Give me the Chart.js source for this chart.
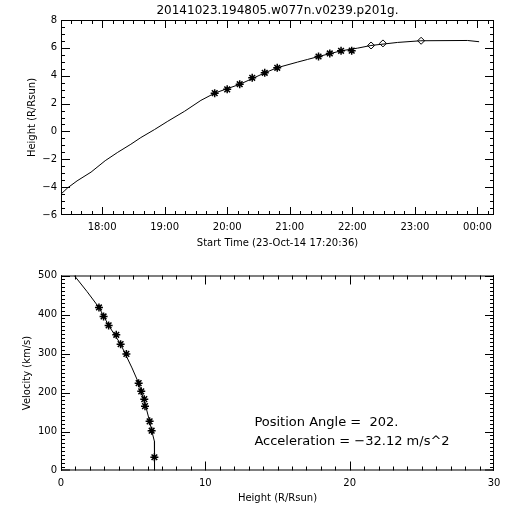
<!DOCTYPE html>
<html>
<head>
<meta charset="utf-8">
<script src="https://cdn.jsdelivr.net/npm/chart.js@4/dist/chart.umd.min.js"></script>
<style>
    body { margin: 0; background: #fff; }
    canvas { position: absolute; left: 0; }
    #heightChart, #heightFrame { top: 0; }
    #velChart, #velFrame { top: 250px; }
    #heightFrame, #velFrame { z-index: 2; pointer-events: none; }
</style>
</head>
<body>
<canvas id="heightChart" width="512" height="250"></canvas>
<canvas id="velChart" width="512" height="262"></canvas>
<canvas id="heightFrame" width="512" height="250"></canvas>
<canvas id="velFrame" width="512" height="262"></canvas>
<script>
// Height-time plot (hours of day, 24 = midnight)
const fitTimes = [17.343, 17.45, 17.60, 17.824, 18.05, 18.25, 18.46, 18.62, 18.84, 19.05, 19.32, 19.58, 19.805, 20.204, 20.604, 20.796, 21.126, 21.286, 21.462, 21.823, 22.085, 22.297, 22.724, 23.096, 23.842, 24.027];
const fitHeights = [-4.50, -4.05, -3.55, -2.92, -2.10, -1.50, -0.92, -0.44, 0.14, 0.73, 1.45, 2.23, 2.76, 3.39, 4.21, 4.57, 4.98, 5.17, 5.38, 5.79, 5.98, 6.17, 6.39, 6.51, 6.53, 6.44];
const obsTimes = [19.80, 20.00, 20.20, 20.40, 20.60, 20.80, 21.46, 21.64, 21.82, 21.99];
const obsHeights = [2.75, 3.02, 3.39, 3.85, 4.21, 4.57, 5.38, 5.60, 5.79, 5.80];
const extraTimes = [22.30, 22.49, 23.10];
const extraHeights = [6.17, 6.32, 6.51];
const timeRange = [17.3433, 24.265];
const heightRange = [-6, 8];
const hourTicks = [18, 19, 20, 21, 22, 23, 24];
const hourLabels = ['18:00', '19:00', '20:00', '21:00', '22:00', '23:00', '00:00'];

// Velocity-height plot
const velHeights = [2.63, 2.95, 3.30, 3.83, 4.13, 4.53, 5.38, 5.56, 5.77, 5.82, 6.14, 6.28, 6.47];
const velValues = [418, 395, 372, 348, 324, 299, 224, 203, 183, 165, 126, 102, 34];
const velFitHeights = [0.92, 1.8, 2.63, 3.3, 4.13, 4.92, 5.38, 5.8, 6.14, 6.3, 6.47, 6.48, 6.48];
const velFitValues = [500, 459, 418, 372, 324, 263, 224, 175, 126, 100, 75, 30, 0];
const distRange = [0, 30];
const velRange = [0, 500];

const titleText = '20141023.194805.w077n.v0239.p201g.';
const notes = ['Position Angle =  202.', 'Acceleration = \u221232.12 m/s^2'];
const noteX = 13.4;
const noteY = [122, 73];

const FONT = "'DejaVu Sans', sans-serif";
Chart.defaults.font.family = FONT;
Chart.defaults.font.size = 10;
Chart.defaults.color = '#000';

const toPoints = (xs, ys) => xs.map((x, i) => ({ x: x, y: ys[i] }));
const fmtNum = v => (v < 0 ? '\u2212' + Math.abs(v) : String(v));

// IDL style box with inward ticks on all four sides, drawn on a canvas laid over the chart
function drawFrame(canvasId, chart, cfg) {
    const ctx = document.getElementById(canvasId).getContext('2d');
    const a = chart.chartArea;
    const xs = chart.scales.x, ys = chart.scales.y;
    ctx.fillStyle = '#000';
    // box
    ctx.fillRect(a.left, a.top, a.right - a.left, 1);
    ctx.fillRect(a.left, a.bottom - 1, a.right - a.left, 1);
    ctx.fillRect(a.left, a.top, 1, a.bottom - a.top);
    ctx.fillRect(a.right - 1, a.top, 1, a.bottom - a.top);
    // x ticks, bottom and top
    const nx0 = Math.ceil(cfg.x[0] / cfg.xStep - 1e-6);
    const nx1 = Math.floor(cfg.x[1] / cfg.xStep + 1e-6);
    for (let k = nx0; k <= nx1; k++) {
        let px = Math.round(xs.getPixelForValue(k * cfg.xStep));
        px = Math.max(a.left, Math.min(px, a.right - 1));
        const len = (k % cfg.xEvery === 0) ? cfg.xMajor : cfg.xMinor;
        ctx.fillRect(px, a.bottom - len, 1, len);
        ctx.fillRect(px, a.top, 1, len);
    }
    // y ticks, left and right
    const ny0 = Math.ceil(cfg.y[0] / cfg.yStep - 1e-6);
    const ny1 = Math.floor(cfg.y[1] / cfg.yStep + 1e-6);
    for (let k = ny0; k <= ny1; k++) {
        let py = Math.round(ys.getPixelForValue(k * cfg.yStep));
        py = Math.max(a.top, Math.min(py, a.bottom - 1));
        const len = (k % cfg.yEvery === 0) ? cfg.yMajor : cfg.yMinor;
        ctx.fillRect(a.left, py, len, 1);
        ctx.fillRect(a.right - len, py, len, 1);
    }
}

// free text placed at data coordinates (or above the box for the title)
function makeText(lines, size, place) {
    return {
        id: 'freeText',
        afterDraw(chart) {
            const ctx = chart.ctx;
            ctx.save();
            ctx.font = size + 'px ' + FONT;
            ctx.fillStyle = '#000';
            ctx.textBaseline = 'middle';
            lines.forEach((t, i) => {
                const p = place(chart, i);
                ctx.textAlign = p.align;
                ctx.fillText(t, p.x, p.y);
            });
            ctx.restore();
        }
    };
}

const heightChart = new Chart(document.getElementById('heightChart'), {
    type: 'scatter',
    data: {
        datasets: [{
            data: toPoints(fitTimes, fitHeights),
            showLine: true,
            borderColor: '#000',
            borderWidth: 1,
            pointRadius: 0,
            tension: 0
        }, {
            data: toPoints(obsTimes, obsHeights),
            pointStyle: 'star',
            pointRadius: 4,
            borderColor: '#000',
            borderWidth: 1.5
        }, {
            data: toPoints(extraTimes, extraHeights),
            pointStyle: 'rectRot',
            pointRadius: 3.5,
            borderColor: '#000',
            backgroundColor: '#fff',
            borderWidth: 1
        }]
    },
    options: {
        responsive: false,
        animation: false,
        devicePixelRatio: 1,
        layout: { padding: { top: 20, right: 18, bottom: 0, left: 0 } },
        plugins: {
            legend: { display: false },
            tooltip: { enabled: false },
            title: { display: false }
        },
        scales: {
            x: {
                type: 'linear',
                min: timeRange[0],
                max: timeRange[1],
                afterBuildTicks: s => { s.ticks = hourTicks.map(v => ({ value: v })); },
                afterFit: s => { s.height = 35; },
                ticks: { padding: 6, maxRotation: 0, autoSkip: false, callback: (v, i) => hourLabels[i] },
                grid: { display: false, drawTicks: false },
                border: { display: false },
                title: { display: true, text: 'Start Time (23-Oct-14 17:20:36)', padding: { top: 0, bottom: 1 } }
            },
            y: {
                min: heightRange[0],
                max: heightRange[1],
                afterFit: s => { s.width = 61; },
                ticks: { stepSize: 2, padding: 4, callback: v => fmtNum(v) },
                grid: { display: false, drawTicks: false },
                border: { display: false },
                title: { display: true, text: 'Height (R/Rsun)', padding: { top: 26, bottom: 0 } }
            }
        }
    },
    plugins: [
        makeText([titleText], 12, c => ({ x: (c.chartArea.left + c.chartArea.right) / 2, y: 10.5, align: 'center' }))
    ]
});

const velChart = new Chart(document.getElementById('velChart'), {
    type: 'scatter',
    data: {
        datasets: [{
            data: toPoints(velFitHeights, velFitValues),
            showLine: true,
            borderColor: '#000',
            borderWidth: 1,
            pointRadius: 0,
            tension: 0
        }, {
            data: toPoints(velHeights, velValues),
            pointStyle: 'star',
            pointRadius: 4,
            borderColor: '#000',
            borderWidth: 1.5
        }]
    },
    options: {
        responsive: false,
        animation: false,
        devicePixelRatio: 1,
        layout: { padding: { top: 25.5, right: 18, bottom: 0, left: 0 } },
        plugins: {
            legend: { display: false },
            tooltip: { enabled: false }
        },
        scales: {
            x: {
                type: 'linear',
                min: distRange[0],
                max: distRange[1],
                afterFit: s => { s.height = 41.5; },
                ticks: { stepSize: 10, padding: 7, maxRotation: 0, callback: v => fmtNum(v) },
                grid: { display: false, drawTicks: false },
                border: { display: false },
                title: { display: true, text: 'Height (R/Rsun)', padding: { top: 0, bottom: 8 } }
            },
            y: {
                min: velRange[0],
                max: velRange[1],
                afterFit: s => { s.width = 61; },
                ticks: { stepSize: 100, padding: 4, callback: v => fmtNum(v) },
                grid: { display: false, drawTicks: false },
                border: { display: false },
                title: { display: true, text: 'Velocity (km/s)', padding: { top: 21, bottom: 0 } }
            }
        }
    },
    plugins: [
        makeText(notes, 13, (c, i) => ({ x: c.scales.x.getPixelForValue(noteX), y: c.scales.y.getPixelForValue(noteY[i]), align: 'left' }))
    ]
});

drawFrame('heightFrame', heightChart, { x: timeRange, y: heightRange, xStep: 1 / 6, xEvery: 6, yStep: 0.5, yEvery: 4, xMajor: 8, xMinor: 4, yMajor: 9, yMinor: 4 });
drawFrame('velFrame', velChart, { x: distRange, y: velRange, xStep: 1, xEvery: 10, yStep: 10, yEvery: 10, xMajor: 9, xMinor: 4, yMajor: 9, yMinor: 4 });
</script>
</body>
</html>
